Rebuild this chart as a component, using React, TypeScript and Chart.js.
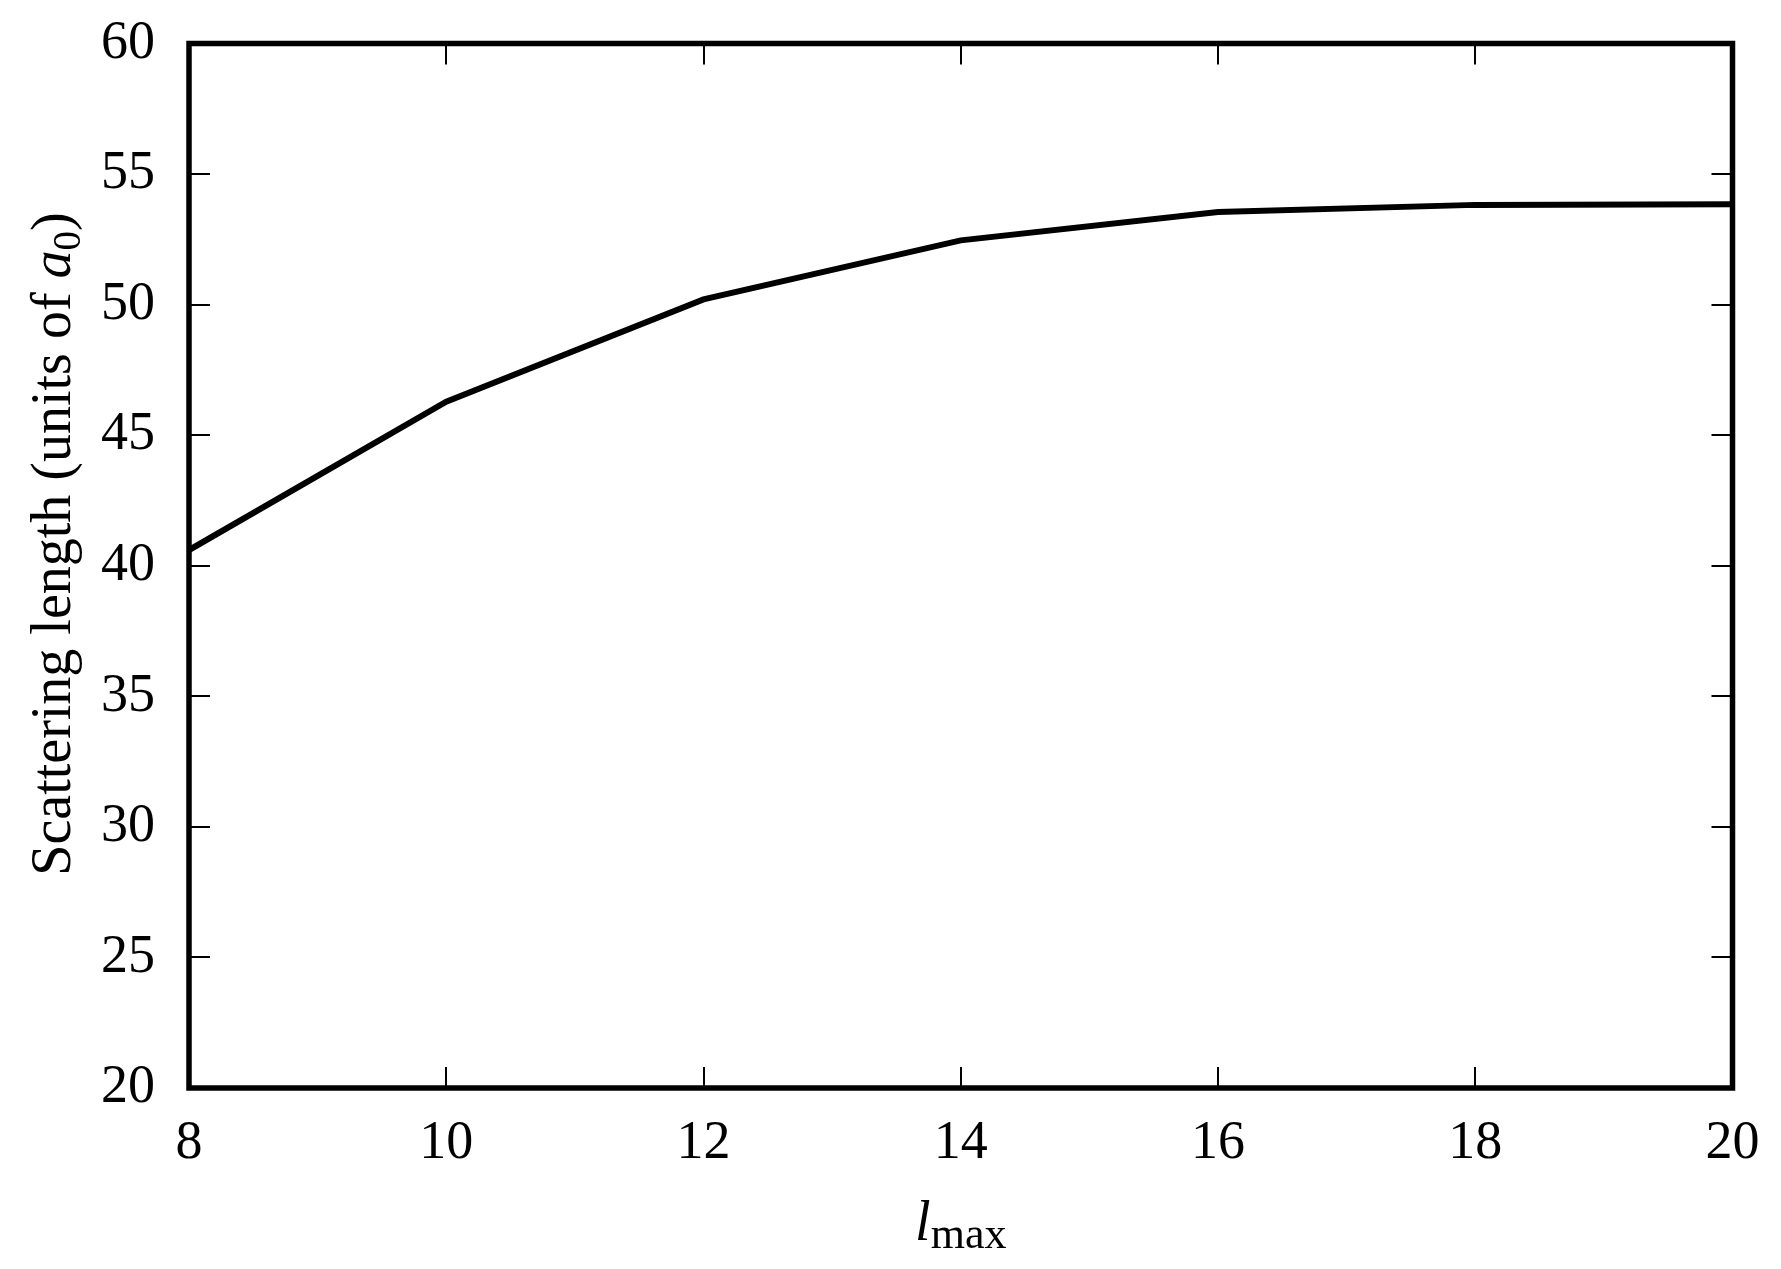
import React, { useEffect, useRef } from "react";
import { Chart, registerables } from "chart.js";

Chart.register(...registerables);

const lmaxValues = [8, 10, 12, 14, 16, 18, 20];
const scatteringLength = [40.6, 46.28, 50.2, 52.46, 53.55, 53.82, 53.84];
const xTickValues = [8, 10, 12, 14, 16, 18, 20];
const yTickValues = [20, 25, 30, 35, 40, 45, 50, 55, 60];

const W = 1781;
const H = 1269;
const FONT = "'Liberation Serif', 'DejaVu Serif', serif";

const framePlugin = {
  id: "frame",
  afterDraw(chart: any) {
    const { ctx, chartArea: a, scales } = chart;
    const x = scales.x;
    const y = scales.y;
    ctx.save();
    ctx.strokeStyle = "#000";
    ctx.lineWidth = 2;
    ctx.beginPath();
    for (const v of xTickValues) {
      const px = Math.round(x.getPixelForValue(v));
      ctx.moveTo(px, a.bottom);
      ctx.lineTo(px, a.bottom - 21);
      ctx.moveTo(px, a.top);
      ctx.lineTo(px, a.top + 21);
    }
    for (const v of yTickValues) {
      const py = Math.round(y.getPixelForValue(v));
      ctx.moveTo(a.left, py);
      ctx.lineTo(a.left + 21, py);
      ctx.moveTo(a.right, py);
      ctx.lineTo(a.right - 21, py);
    }
    ctx.stroke();
    ctx.lineWidth = 5.5;
    ctx.strokeRect(a.left, a.top, a.right - a.left, a.bottom - a.top);

    ctx.fillStyle = "#000";
    // Y title
    const big = 56;
    const sub = 39;
    const p1 = "Scattering length (units of ";
    const p2 = "a";
    const p3 = "0";
    const p4 = ")";
    ctx.font = `${big}px ${FONT}`;
    const w1 = ctx.measureText(p1).width;
    const w4 = ctx.measureText(p4).width;
    ctx.font = `italic ${big}px ${FONT}`;
    const w2 = ctx.measureText(p2).width;
    ctx.font = `${sub}px ${FONT}`;
    const w3 = ctx.measureText(p3).width;
    const total = w1 + w2 + w3 + w4;
    ctx.save();
    ctx.translate(70, 544 + total / 2);
    ctx.rotate(-Math.PI / 2);
    ctx.textBaseline = "alphabetic";
    ctx.textAlign = "left";
    let cx = 0;
    ctx.font = `${big}px ${FONT}`;
    ctx.fillText(p1, cx, 0);
    cx += w1;
    ctx.font = `italic ${big}px ${FONT}`;
    ctx.fillText(p2, cx, 0);
    cx += w2;
    ctx.font = `${sub}px ${FONT}`;
    ctx.fillText(p3, cx, 10);
    cx += w3;
    ctx.font = `${big}px ${FONT}`;
    ctx.fillText(p4, cx, 0);
    ctx.restore();

    // X title
    const l = "l";
    const m = "max";
    ctx.font = `italic ${big}px ${FONT}`;
    const wl = ctx.measureText(l).width;
    ctx.font = `44px ${FONT}`;
    const wm = ctx.measureText(m).width;
    const tot = wl + wm;
    const cxm = (a.left + a.right) / 2;
    ctx.textAlign = "left";
    ctx.textBaseline = "alphabetic";
    ctx.font = `italic ${big}px ${FONT}`;
    ctx.fillText(l, cxm - tot / 2, 1240);
    ctx.font = `44px ${FONT}`;
    ctx.fillText(m, cxm - tot / 2 + wl, 1248);
    ctx.restore();
  },
};

export default function App() {
  const ref = useRef<HTMLCanvasElement | null>(null);
  useEffect(() => {
    if (!ref.current) return;
    const chart = new Chart(ref.current, {
      type: "line",
      data: {
        datasets: [
          {
            data: lmaxValues.map((v, i) => ({ x: v, y: scatteringLength[i] })),
            borderColor: "#000",
            borderWidth: 6,
            pointRadius: 0,
            tension: 0,
            fill: false,
          },
        ],
      },
      options: {
        animation: false,
        responsive: false,
        layout: { padding: { left: 0, top: 43.5, right: 48.5, bottom: 0 } },
        plugins: {
          legend: { display: false },
          tooltip: { enabled: false },
        },
        scales: {
          x: {
            type: "linear",
            min: 8,
            max: 20,
            afterBuildTicks: (s: any) => {
              s.ticks = xTickValues.map((v) => ({ value: v }));
            },
            afterFit: (s: any) => {
              s.height = H - 1088;
              s.paddingLeft = 0;
              s.paddingRight = 0;
            },
            grid: { display: false, drawTicks: false },
            border: { display: false },
            ticks: {
              color: "#000",
              font: { family: FONT, size: 54 },
              padding: 23,
              maxRotation: 0,
              autoSkip: false,
            },
          },
          y: {
            type: "linear",
            min: 20,
            max: 60,
            afterBuildTicks: (s: any) => {
              s.ticks = yTickValues.map((v) => ({ value: v }));
            },
            afterFit: (s: any) => {
              s.width = 189;
              s.paddingTop = 0;
              s.paddingBottom = 0;
            },
            grid: { display: false, drawTicks: false },
            border: { display: false },
            ticks: {
              color: "#000",
              font: { family: FONT, size: 54 },
              padding: 34,
              autoSkip: false,
            },
          },
        },
      },
      plugins: [framePlugin],
    });
    return () => chart.destroy();
  }, []);
  return (
    <div style={{ position: "absolute", left: 0, top: 0, width: W, height: H, background: "#fff" }}>
      <canvas ref={ref} width={W} height={H} style={{ display: "block" }} />
    </div>
  );
}
